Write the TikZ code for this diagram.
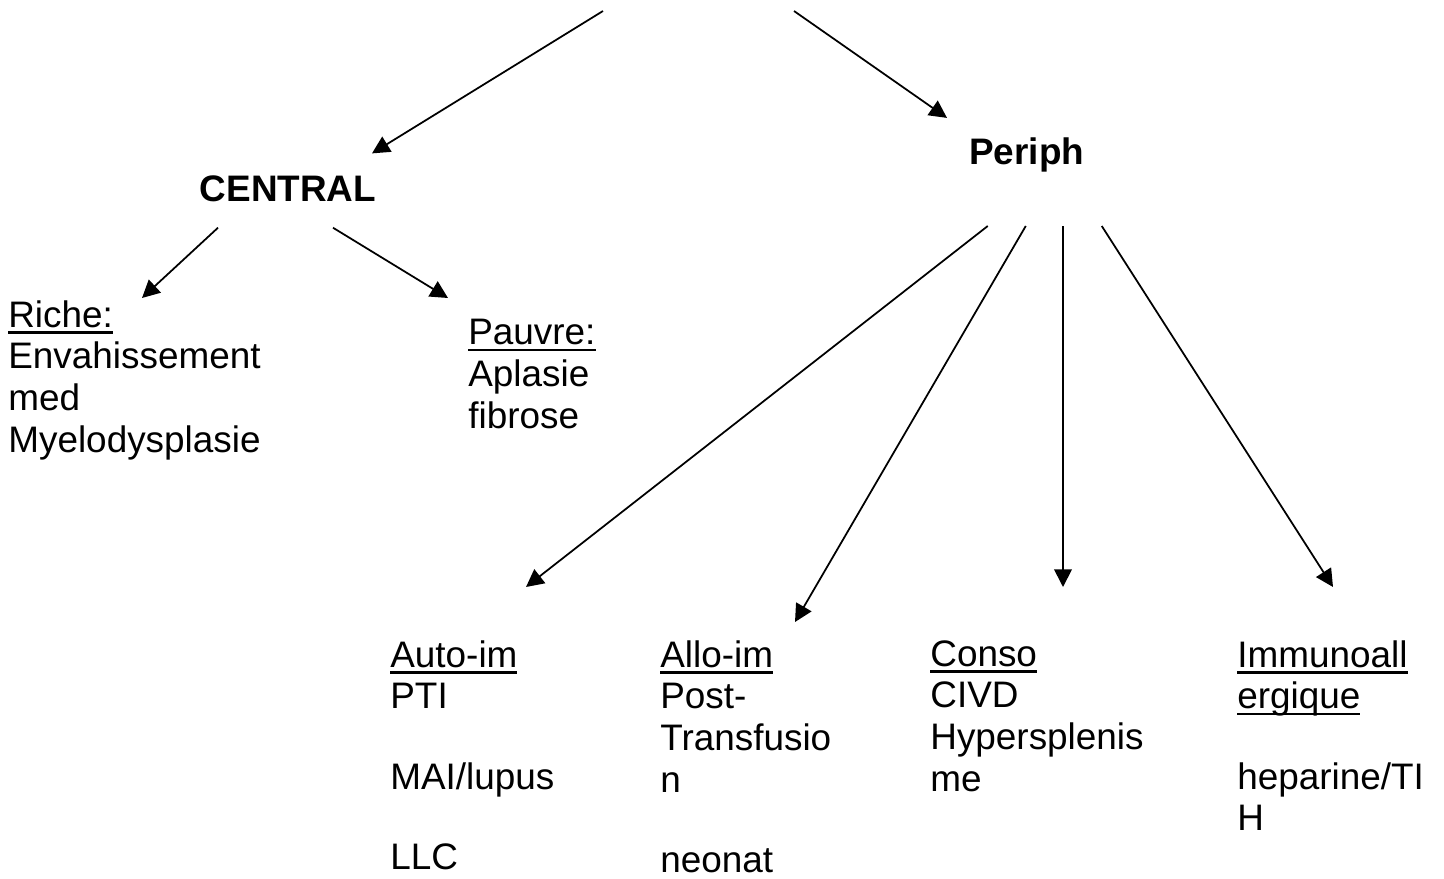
\documentclass[tikz,border=0pt]{standalone}
\usepackage{fontspec}
\setmainfont{Liberation Sans}
\usetikzlibrary{
	arrows.meta,
	calc,
	positioning
}
\newsavebox{\ulbox}
\newcommand{\ulin}[1]{\sbox{\ulbox}{#1}\rlap{\vrule width\wd\ulbox height -2.3pt depth 3.8pt}\usebox{\ulbox}}
\tikzset{
	arr/.style={line width=1pt,-{Triangle[length=10pt,width=10pt]}},
	txt/.style={inner sep=0,align=left,anchor=north west,font=\fontsize{21}{23.7}\selectfont},
	head/.style={inner sep=0,font=\fontsize{21}{23.7}\selectfont\bfseries}
}

\begin{document}
\begin{tikzpicture}[x=.02cm,y=-.02cm]

		\useasboundingbox (0,0) rectangle (1444,879);

		\coordinate (topL) at (603,11);
		\coordinate (topR) at (794,11);

		\node[head,anchor=base] (central) at (288,201) {CENTRAL};
		\node[head,anchor=base west] (periph) at (969,164) {Periph};

		\node[txt] (riche) at (8,300) {\ulin{Riche:}\\Envahissement\\med\\Myelodysplasie};
		\node[txt] (pauvre) at (468,319) {\ulin{Pauvre:}\\Aplasie\\fibrose};

		\node[txt] (auto) at (390,640) {\ulin{Auto-im}\\PTI\\[22pt]MAI/lupus\\[22pt]LLC};
		\node[txt] (allo) at ($(auto.north west)+(270,0)$) {\ulin{Allo-im}\\Post-\\Transfusio\\n\\[22pt]neonat};
		\node[txt] (conso) at ($(allo.north west)+(270,0)$) {\ulin{Conso}\\CIVD\\Hypersplenis\\me};
		\node[txt] (immuno) at (1237,640) {\ulin{Immunoall}\\\ulin{ergique}\\[22pt]heparine/TI\\H};

		\coordinate (pbase) at ($(periph.south)+(0,54)$);
		\coordinate (consoin) at ($(conso.north west)+(133,-53)$);

		% top
		\draw[arr] (topL) -- ($(central.north)+(84,-21.5)$);
		\draw[arr] (topR) -- ($(periph.north west)+(-22,-19)$);

		% central
		\draw[arr] ($(central.south)+(-70,26)$) -- ($(riche.north west)+(134,-2)$);
		\draw[arr] ($(central.south)+(45,26)$) -- ($(pauvre.north west)+(-20,-21)$);

		% periph
		\draw[arr] ($(pbase)+(-39,0)$) -- ($(auto.north west)+(136,-53)$);
		\draw[arr] ($(pbase)+(-1,0)$) -- ($(allo.north west)+(135,-18)$);
		\draw[arr] (pbase -| consoin) -- (consoin);
		\draw[arr] ($(pbase)+(75,0)$) -- ($(immuno.north west)+(96,-53)$);

\end{tikzpicture}
\end{document}
